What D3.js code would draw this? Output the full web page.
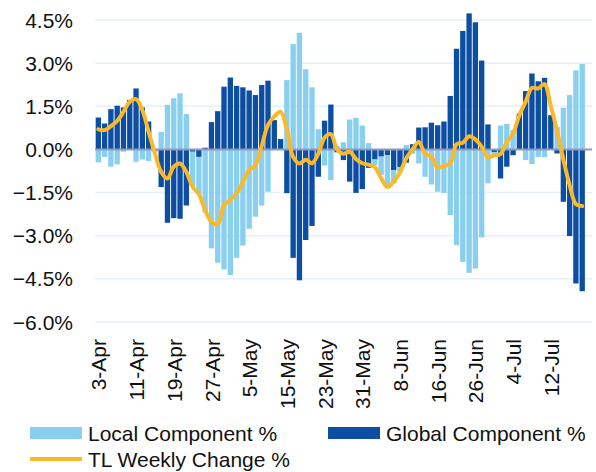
<!DOCTYPE html>
<html>
<head>
<meta charset="utf-8">
<script src="https://cdn.jsdelivr.net/npm/d3@7"></script>
<style>
  html, body { margin: 0; padding: 0; background: #fff; }
  svg { display: block; font-family: "Liberation Sans", Arial, sans-serif; }
</style>
</head>
<body>
<svg id="chart" width="596" height="472"></svg>
<script>
const categories = [
  "3-Apr","4-Apr","5-Apr","6-Apr","7-Apr","10-Apr","11-Apr","12-Apr","13-Apr","14-Apr",
  "17-Apr","18-Apr","19-Apr","20-Apr","21-Apr","24-Apr","25-Apr","26-Apr","27-Apr","28-Apr",
  "1-May","2-May","3-May","4-May","5-May","8-May","9-May","10-May","11-May","12-May",
  "15-May","16-May","17-May","18-May","19-May","22-May","23-May","24-May","25-May","26-May",
  "29-May","30-May","31-May","1-Jun","2-Jun","5-Jun","6-Jun","7-Jun","8-Jun","9-Jun",
  "12-Jun","13-Jun","14-Jun","15-Jun","16-Jun","19-Jun","20-Jun","21-Jun","22-Jun","23-Jun",
  "26-Jun","27-Jun","28-Jun","29-Jun","30-Jun","3-Jul","4-Jul","5-Jul","6-Jul","7-Jul",
  "10-Jul","11-Jul","12-Jul","13-Jul","14-Jul","17-Jul","18-Jul","19-Jul"
];
const tickLabels = ["3-Apr","11-Apr","19-Apr","27-Apr","5-May","15-May","23-May","31-May","8-Jun","16-Jun","26-Jun","4-Jul","12-Jul"];

const localValues = [
  -0.45,-0.26,-0.60,-0.52,-0.08, 0.00,-0.43,-0.35,-0.40,-0.03,
   0.61, 1.55, 1.78, 1.95, 1.23,-1.20,-1.29,-2.19,-3.44,-3.94,
  -4.17,-4.37,-3.77,-3.34,-2.76,-2.34,-1.95,-1.47, 0.00, 0.00,
   2.41, 3.66, 4.05, 2.79, 2.16, 0.70,-0.56,-1.07, 0.12, 0.25,
   1.04, 1.10, 0.83, 0.22,-0.20,-0.64,-1.10,-0.46,-0.16, 0.15,
  -0.15,-0.49,-0.95,-1.22,-1.47,-1.51,-2.28,-3.33,-3.91,-4.29,
  -4.14,-3.06,-1.18,-0.12, 0.83, 0.89, 0.67, 0.00,-0.37,-0.51,
  -0.26,-0.27, 0.00, 0.78, 1.45, 1.89, 2.75, 2.97
];
const globalValues = [
   1.11, 0.90, 1.40, 1.52, 1.46, 1.72, 2.12, 1.46, 0.97,-0.05,
  -1.31,-2.55,-2.39,-2.41,-1.95,-0.08,-0.26, 0.06, 0.95, 1.33,
   2.18, 2.50, 2.21, 2.16, 2.05, 1.89, 2.24, 2.39, 1.02, 0.36,
  -1.52,-3.77,-4.55,-3.15,-2.66,-0.95, 1.00, 1.56,-0.10,-0.37,
  -1.12,-1.51,-1.38,-0.64,-0.35,-0.25,-0.20,-0.72,-0.62,-0.46,
   0.18, 0.76, 0.77, 0.93, 0.84, 0.97, 1.86, 3.50, 4.12, 4.73,
   4.42, 3.09, 0.87,-0.10,-1.01,-0.60,-0.20, 1.24, 2.03, 2.64,
   2.37, 2.49, 1.19,-0.14,-1.82,-3.01,-4.66,-4.93
];
const tlValues = [
   0.70, 0.67, 0.81, 0.99, 1.31, 1.66, 1.75, 1.37, 0.61,-0.14,
  -0.78,-1.01,-0.60,-0.49,-0.78,-1.30,-1.55,-2.11,-2.52,-2.60,
  -1.94,-1.76,-1.53,-1.13,-0.72,-0.55, 0.12, 0.85, 1.15, 1.31,
   0.70,-0.26,-0.49,-0.36,-0.48,-0.15, 0.41, 0.53, 0.00,-0.15,
  -0.08,-0.33,-0.48,-0.53,-0.62,-1.00,-1.31,-1.12,-0.80,-0.31,
   0.00, 0.26,-0.15,-0.26,-0.63,-0.58,-0.49, 0.18, 0.23, 0.46,
   0.35, 0.09,-0.28,-0.20,-0.16, 0.26, 0.56, 1.19, 1.66, 2.14,
   2.12, 2.27, 1.51, 0.65,-0.35,-1.24,-1.90,-1.97
];
const yTicks = [4.5, 3.0, 1.5, 0.0, -1.5, -3.0, -4.5, -6.0];

const seriesNames = ["Local Component %", "Global Component %", "TL Weekly Change %"];
const colors = { local: "#89cff0", global: "#0b4ea2", tl: "#fbb829" };

const svg = d3.select("#chart");
const plotLeft = 95.2, plotRight = 592;
const step = 6.284;

const x = d3.scaleBand()
  .domain(categories)
  .range([plotLeft, plotLeft + step * categories.length])
  .paddingInner(0.15)
  .paddingOuter(0.075);

const y = d3.scaleLinear().domain([-6, 4.5]).range([322, 20]);

// gridlines
svg.append("g").selectAll("line")
  .data(yTicks.filter(v => v !== 0))
  .join("line")
  .attr("x1", plotLeft).attr("x2", plotRight)
  .attr("y1", d => y(d)).attr("y2", d => y(d))
  .attr("stroke", "#e4f0fa").attr("stroke-width", 1.5);

// y labels
svg.append("g").selectAll("text")
  .data(yTicks)
  .join("text")
  .attr("x", 73).attr("y", d => y(d))
  .attr("dy", "0.36em")
  .attr("text-anchor", "end")
  .attr("font-size", 21)
  .attr("fill", "#111")
  .text(d => d3.format(".1f")(d) + "%");

// stacked bars
const rows = categories.map((c, i) => ({ cat: c, global: globalValues[i], local: localValues[i] }));
const stack = d3.stack().keys(["global", "local"]).offset(d3.stackOffsetDiverging);
const stacked = stack(rows);

svg.append("g").selectAll("g")
  .data(stacked)
  .join("g")
  .attr("fill", d => colors[d.key])
  .selectAll("rect")
  .data(d => d)
  .join("rect")
  .attr("x", d => x(d.data.cat))
  .attr("width", x.bandwidth())
  .attr("y", d => y(Math.max(d[0], d[1])))
  .attr("height", d => Math.abs(y(d[0]) - y(d[1])));

// zero axis line
svg.append("line")
  .attr("x1", plotLeft).attr("x2", plotRight)
  .attr("y1", y(0)).attr("y2", y(0))
  .attr("stroke", "#9198bf").attr("stroke-width", 2);

// TL line
const line = d3.line()
  .x((d, i) => x(categories[i]) + x.bandwidth() / 2)
  .y(d => y(d))
  .curve(d3.curveCatmullRom.alpha(0.5));

svg.append("path")
  .datum(tlValues)
  .attr("d", line)
  .attr("fill", "none")
  .attr("stroke", colors.tl)
  .attr("stroke-width", 4)
  .attr("stroke-linejoin", "round")
  .attr("stroke-linecap", "round");

// x axis labels
const xAxis = d3.axisBottom(x).tickValues(tickLabels).tickSize(0);
const gx = svg.append("g")
  .attr("transform", `translate(0,${322})`)
  .call(xAxis);
gx.select(".domain").remove();
gx.selectAll("text")
  .attr("transform", "rotate(-90)")
  .attr("x", -17)
  .attr("y", 0.5)
  .attr("dy", "0.36em")
  .attr("text-anchor", "end")
  .attr("font-size", 21)
  .attr("font-family", "'Liberation Sans', Arial, sans-serif")
  .attr("fill", "#111");

// legend
const lg = svg.append("g").attr("font-size", 21).attr("fill", "#111");
lg.append("rect").attr("x", 30).attr("y", 427).attr("width", 52).attr("height", 12).attr("fill", colors.local);
lg.append("text").attr("x", 88).attr("y", 433).attr("dy", "0.36em").text(seriesNames[0]);
lg.append("rect").attr("x", 328).attr("y", 427).attr("width", 52).attr("height", 12).attr("fill", colors.global);
lg.append("text").attr("x", 386).attr("y", 433).attr("dy", "0.36em").text(seriesNames[1]);
lg.append("line").attr("x1", 30).attr("x2", 82).attr("y1", 459).attr("y2", 459)
  .attr("stroke", colors.tl).attr("stroke-width", 4);
lg.append("text").attr("x", 88).attr("y", 459).attr("dy", "0.36em").text(seriesNames[2]);
</script>
</body>
</html>
